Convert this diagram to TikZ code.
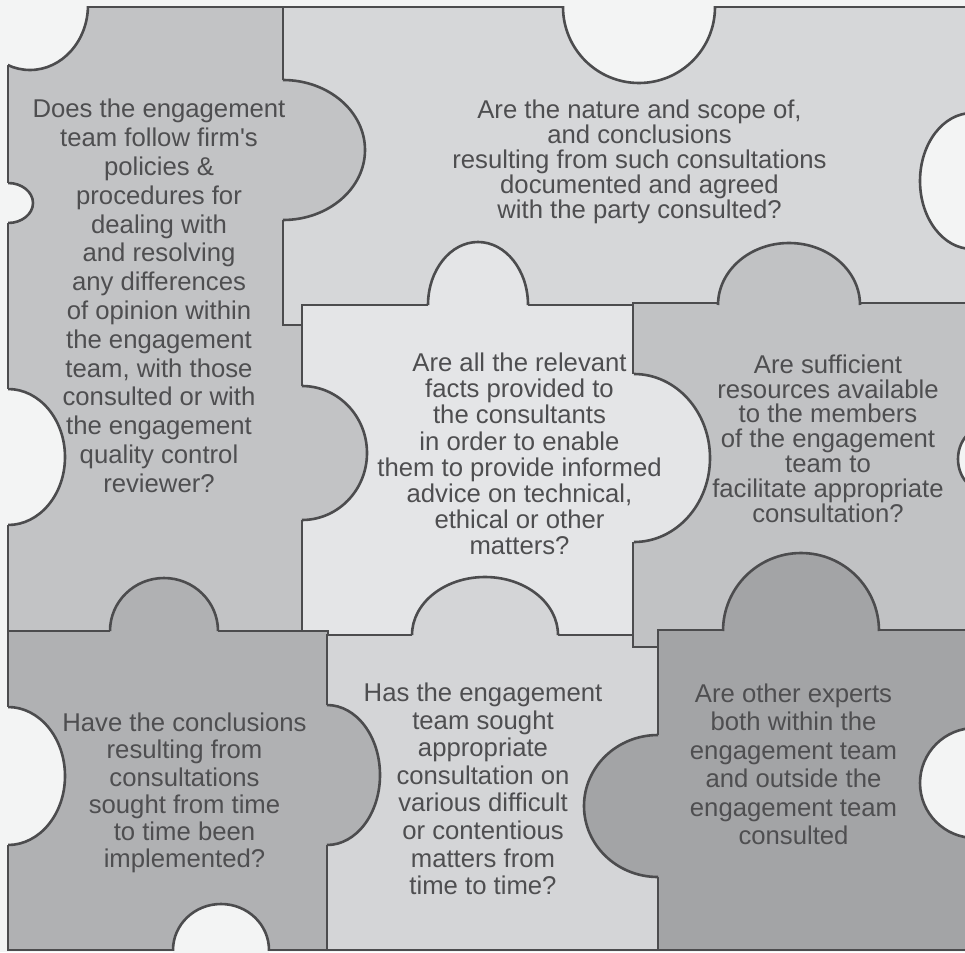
\documentclass[tikz,border=0pt]{standalone}
\usepackage{fontspec}
\setmainfont{Liberation Sans}
\definecolor{bgc}{HTML}{F3F4F4}
\definecolor{pA}{HTML}{C2C3C5}
\definecolor{pB}{HTML}{D6D7D9}
\definecolor{pC}{HTML}{E4E5E7}
\definecolor{pD}{HTML}{B0B1B3}
\definecolor{pG}{HTML}{D4D5D7}
\definecolor{pE}{HTML}{C1C2C4}
\definecolor{pF}{HTML}{A3A4A6}
\definecolor{lc}{HTML}{4C4C4E}
\definecolor{tc}{HTML}{4E4E50}
\newcommand\pztab[6]{%
  \fill[#1] (#2,#3) ellipse[x radius=#4, y radius=#5];
  \draw[pzline] ([shift={(#6:#4 and #5)}]#2,#3) arc[start angle=#6, delta angle=180, x radius=#4, y radius=#5];
}
\newcommand\pzhole[4]{%
  \fill[bgc] (#1,#2) ellipse[x radius=#3, y radius=#4];
  \begin{scope}
    \clip (8,7) rectangle (965,950);
    \draw[pzline] (#1,#2) ellipse[x radius=#3, y radius=#4];
  \end{scope}
}
\begin{document}
\begin{tikzpicture}[x=1pt,y=-1pt,
  pzline/.style={draw=lc, line width=2.6pt, line join=miter},
  piece/.style={pzline},
  qtext/.style={text=tc, align=center, inner sep=0pt}]
\useasboundingbox (0,0) rectangle (965,952);
\fill[bgc] (0,0) rectangle (965,952);
% pieces
\filldraw[piece, fill=pA] (8,7) rectangle (302,631);
\filldraw[piece, fill=pB] (283,7) rectangle (980,325);
\filldraw[piece, fill=pC] (302,305) rectangle (635,635);
\filldraw[piece, fill=pD] (8,631) rectangle (328,950);
\filldraw[piece, fill=pG] (327,635) rectangle (658,950);
\filldraw[piece, fill=pE] (633,303) rectangle (980,647);
\filldraw[piece, fill=pF] (658,630) rectangle (980,950);
% tabs
\pztab{pA}{283}{150}{82}{70}{270}
\pztab{pA}{302}{453}{65}{67}{270}
\pztab{pC}{478}{305}{50}{63}{180}
\pztab{pE}{789}{305}{71}{62}{180}
\pztab{pC}{634}{458}{76}{84}{270}
\pztab{pD}{164}{631}{54}{53}{180}
\pztab{pG}{485}{635}{73}{58}{180}
\pztab{pF}{801}{631}{78}{78}{180}
\pztab{pD}{327}{775}{53}{70}{270}
\pztab{pF}{658}{806}{74}{71}{90}
% holes
\pzhole{30}{5}{58}{65}
\pzhole{8}{203}{25}{20}
\pzhole{639}{7}{76}{76}
\pzhole{972}{181}{52}{68}
\pzhole{8}{457}{57}{68}
\pzhole{985}{459}{27}{32}
\pzhole{8}{776}{57}{69}
\pzhole{221}{950}{48}{46}
\pzhole{975}{783}{55}{55}
% texts
\node[qtext, font=\fontsize{25.7}{28.8}\selectfont] (ta) at (159,296)
  {Does the engagement\\team follow firm\textquotesingle s\\policies \&\\procedures for\\dealing with\\and resolving\\any differences\\of opinion within\\the engagement\\team, with those\\consulted or with\\the engagement\\quality control\\reviewer?};
\node[qtext, font=\fontsize{25.7}{24.9}\selectfont] (tb) at (639.5,162)
  {Are the nature and scope of,\\and conclusions\\resulting from such consultations\\documented and agreed\\with the party consulted?};
\node[qtext, font=\fontsize{25.7}{26.2}\selectfont] (tc) at (519.5,454)
  {Are all the relevant\\facts provided to\\the consultants\\in order to enable\\them to provide informed\\advice on technical,\\ethical or other\\matters?};
\node[qtext, font=\fontsize{25.7}{24.8}\selectfont] (te) at (828,438.5)
  {Are sufficient\\resources available\\to the members\\of the engagement\\team to\\facilitate appropriate\\consultation?};
\node[qtext, font=\fontsize{25.7}{27.3}\selectfont] (td) at (184.5,793)
  {Have the conclusions\\resulting from\\consultations\\sought from time\\to time been\\implemented?};
\node[qtext, font=\fontsize{25.7}{27.6}\selectfont] (tg) at (483,789)
  {Has the engagement\\team sought\\appropriate\\consultation on\\various difficult\\or contentious\\matters from\\time to time?};
\node[qtext, font=\fontsize{25.7}{28.5}\selectfont] (tf) at (793.5,764.5)
  {Are other experts\\both within the\\engagement team\\and outside the\\engagement team\\consulted};
\end{tikzpicture}
\end{document}
